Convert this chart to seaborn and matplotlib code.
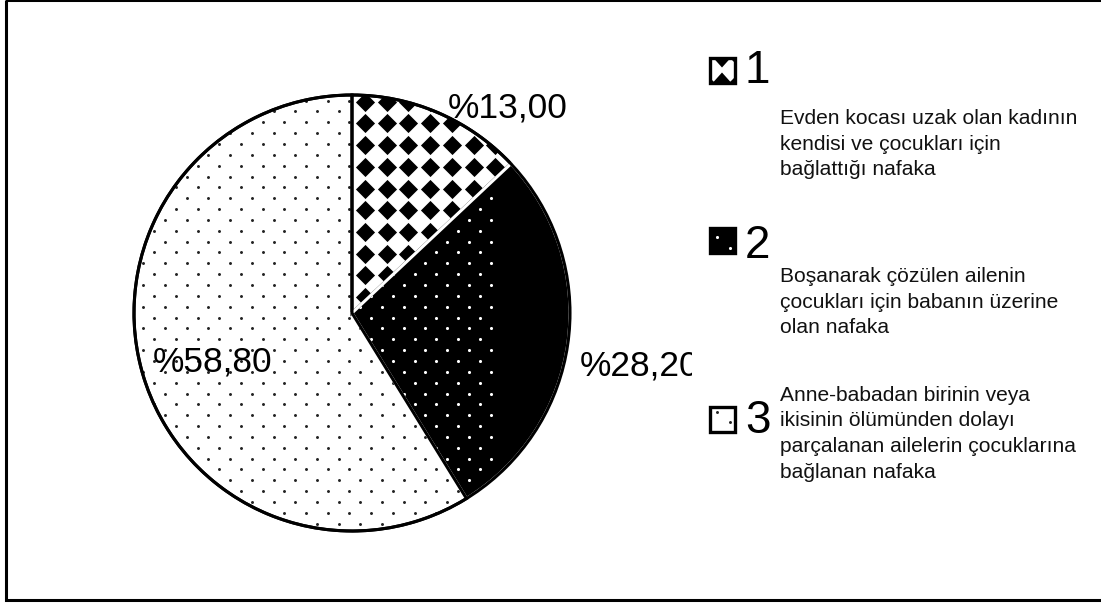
import numpy as np
import matplotlib
matplotlib.use("Agg")
import matplotlib.pyplot as plt
import seaborn as sns
from matplotlib.patches import Rectangle, Polygon, Circle

sns.set_theme(style="white")
plt.rcParams["font.family"] = ["Liberation Sans", "DejaVu Sans"]

# ---- data -------------------------------------------------------------
categories = ["1", "2", "3"]
shares = [13.00, 28.20, 58.80]
descriptions = [
    ["Evden kocası uzak olan kadının", "kendisi ve çocukları için", "bağlattığı nafaka"],
    ["Boşanarak çözülen ailenin", "çocukları için babanın üzerine", "olan nafaka"],
    ["Anne-babadan birinin veya", "ikisinin ölümünden dolayı",
     "parçalanan ailelerin çocuklarına", "bağlanan nafaka"],
]

W, H = 1101, 603
fig = plt.figure(figsize=(W / 100, H / 100), dpi=100, facecolor="white")

# ---- pie panel, laid out in pixel units --------------------------------
cx, cy, R = 352, 313, 218
ax_left, ax_right, ax_top, ax_bottom = 8, 692, 4, 597
ax = fig.add_axes([ax_left / W, 1 - ax_bottom / H,
                   (ax_right - ax_left) / W, (ax_bottom - ax_top) / H])

edge_lw = 2.2
wedges, _ = ax.pie(shares, startangle=90, counterclock=False,
                   colors=["white", "black", "white"],
                   wedgeprops=dict(linewidth=0))


def to_data(px, py):
    return (np.asarray(px, float) - cx) / R, (cy - np.asarray(py, float)) / R


# staggered dot screen used by slices 2 and 3
step = 21.7
sx, sy = [], []
for k in range(-30, 30):
    xs = 165 - (k % 2) * step / 2 + step * np.arange(-16, 16)
    sx.extend(xs)
    sy.extend([285 + k * step / 2] * len(xs))
dot_x, dot_y = to_data(sx, sy)

# diamond lattice used by slice 1
gx, gy = np.meshgrid(365 + step * np.arange(-3, 12), 101.7 + step * np.arange(-2, 12))
dia_x, dia_y = to_data(gx.ravel(), gy.ravel())

d1 = ax.scatter(dia_x, dia_y, s=95, marker="D", c="black", linewidths=0, zorder=2)
d1.set_clip_path(wedges[0])
d2 = ax.scatter(dot_x, dot_y, s=5, c="white", linewidths=0, zorder=2)
d2.set_clip_path(wedges[1])
d3 = ax.scatter(dot_x, dot_y, s=4.5, c="#222222", linewidths=0, zorder=2)
d3.set_clip_path(wedges[2])

# slice borders on top of the screens
outline, _ = ax.pie(shares, startangle=90, counterclock=False,
                    wedgeprops=dict(fill=False, linewidth=edge_lw, edgecolor="black"))
outline[1].set_edgecolor("white")
for w in outline:
    w.set_zorder(3)
ax.add_patch(Circle((0, 0), 1, fill=False, lw=edge_lw, ec="black", zorder=4))

ax.set_xlim((ax_left - cx) / R, (ax_right - cx) / R)
ax.set_ylim((cy - ax_bottom) / R, (cy - ax_top) / R)
ax.set_aspect("auto")
ax.axis("off")

# percentage labels (Turkish style: % prefix, decimal comma)
label_pos = [(448, 117), (580, 375), (153, 371)]
for v, (px, py) in zip(shares, label_pos):
    tx, ty = to_data(px, py)
    ax.text(tx, ty, "%" + f"{v:.2f}".replace(".", ","), fontsize=25.5,
            ha="left", va="baseline", color="black", clip_on=True, zorder=5)

# ---- overlay in figure pixels: frame and legend -----------------------
ov = fig.add_axes([0, 0, 1, 1], zorder=5)
ov.set_xlim(0, W)
ov.set_ylim(H, 0)
ov.axis("off")

ov.add_patch(Rectangle((6, 0), W + 20, 600, fill=False, lw=2.2, ec="black"))

sw_x, sw = 709.5, 25
key_top = [57.5, 228, 406.5]
num_base = [83, 258, 433]
desc_base = [124, 282, 401]
line_step = 25.5

# swatch 1: piece of the diamond screen
y0 = key_top[0]
ov.add_patch(Rectangle((sw_x, y0), sw, sw, fc="white", ec="black", lw=2.4, zorder=2))
mx = sw_x + sw / 2
for tri in ([(mx - 9, y0), (mx + 9, y0), (mx, y0 + 10)],
            [(mx - 9, y0 + sw), (mx + 9, y0 + sw), (mx, y0 + sw - 10)],
            [(sw_x, y0), (sw_x + 5, y0), (sw_x, y0 + 5)],
            [(sw_x + sw, y0), (sw_x + sw - 5, y0), (sw_x + sw, y0 + 5)],
            [(sw_x, y0 + sw), (sw_x + 5, y0 + sw), (sw_x, y0 + sw - 5)],
            [(sw_x + sw, y0 + sw), (sw_x + sw - 5, y0 + sw), (sw_x + sw, y0 + sw - 5)]):
    ov.add_patch(Polygon(tri, closed=True, fc="black", ec="none", zorder=3))

# swatch 2: black with white dots
y0 = key_top[1]
ov.add_patch(Rectangle((sw_x, y0), sw, sw, fc="black", ec="black", lw=2.4, zorder=2))
ov.scatter([sw_x + 7, sw_x + 20], [y0 + 9, y0 + 20], s=5, c="white", linewidths=0, zorder=3)

# swatch 3: white with dark dots
y0 = key_top[2]
ov.add_patch(Rectangle((sw_x, y0), sw, sw, fc="white", ec="black", lw=2.4, zorder=2))
ov.scatter([sw_x + 7, sw_x + 20], [y0 + 5, y0 + 15], s=4.5, c="#222222", linewidths=0, zorder=3)

for cat, nb, db, lines in zip(categories, num_base, desc_base, descriptions):
    ov.text(745, nb, cat, fontsize=33, ha="left", va="baseline", color="black")
    for i, line in enumerate(lines):
        ov.text(780, db + i * line_step, line, fontsize=15.1,
                ha="left", va="baseline", color="#111111")

fig.savefig("out.png", dpi=100, facecolor="white")
